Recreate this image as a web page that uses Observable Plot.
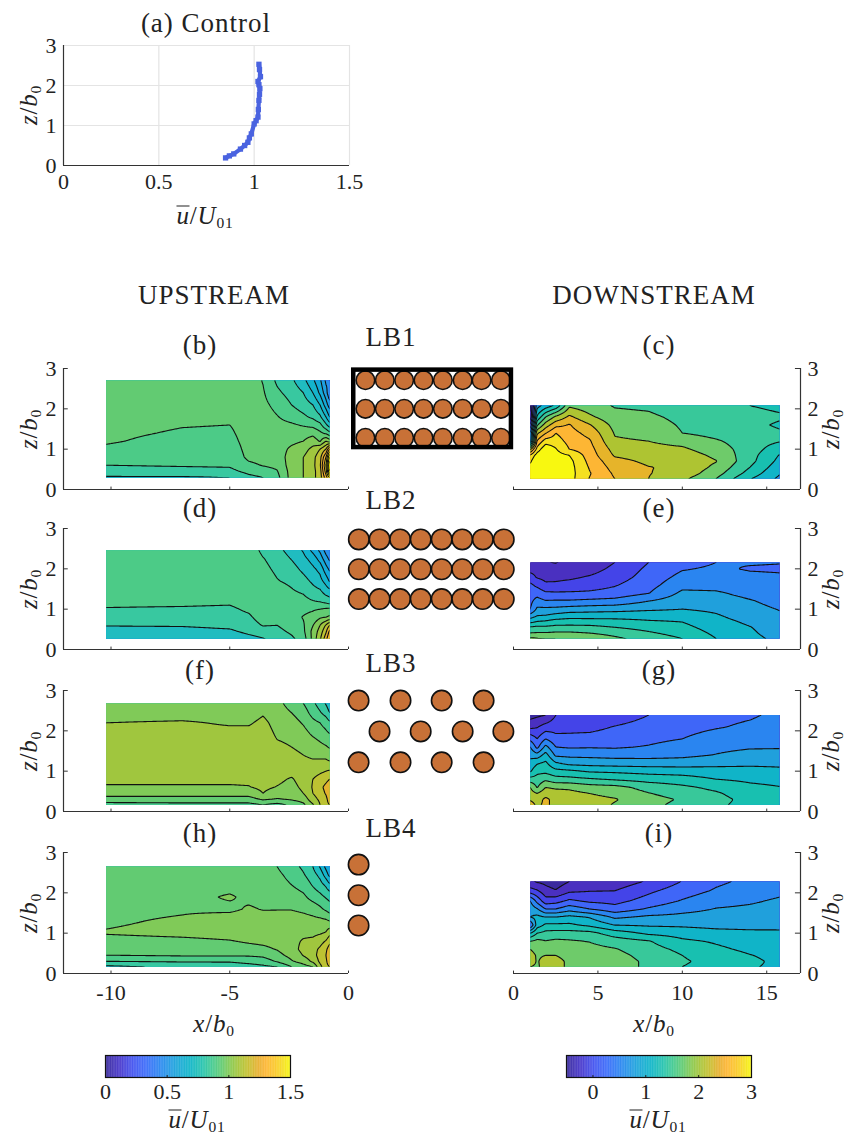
<!DOCTYPE html>
<html><head><meta charset="utf-8">
<script src="https://cdn.jsdelivr.net/npm/d3@7"></script>
<script src="https://cdn.jsdelivr.net/npm/@observablehq/plot@0.6"></script>
<style>
html,body{margin:0;padding:0;background:#fff}
#fig{position:relative;width:851px;height:1134px;overflow:hidden;font-family:"Liberation Serif",serif;color:#222}
#fig svg{position:absolute;overflow:visible;max-width:none;background:transparent}
.t{position:absolute;transform:translate(-50%,-50%);white-space:nowrap;font-size:27px;letter-spacing:1px;line-height:1}
.m{font-size:25px;letter-spacing:.8px}
.m i{font-style:italic}
.m sub{font-style:normal;font-size:62%;line-height:0;vertical-align:baseline;position:relative;top:.24em}
.m .o{display:inline-block;font-style:italic;line-height:.62em;border-top:1.2px solid #222;padding-top:1px}
.r{transform:translate(-50%,-50%) rotate(-90deg)}
</style></head><body><div id="fig"></div>
<script>
// ---------- (a) control profile ----------
const controlU=[0.85,0.87,0.893,0.928,0.95,0.967,0.975,0.985,1.0,1.01,1.02,1.022,1.025,1.028,1.03,1.025,1.02,1.033,1.028,1.025];
const controlZ=[0.19,0.24,0.29,0.41,0.5,0.58,0.69,0.79,1.04,1.12,1.21,1.4,1.63,1.78,1.92,2.02,2.1,2.22,2.4,2.53];
const axisU=[0,0.5,1,1.5], axisZ=[0,1,2,3];

// ---------- upstream fields: readings per column (top to bottom), one contour step = 0.1 here ----------
const upX=[-10.2,-7,-5,-4.2,-3.6,-3,-2.4,-1.9,-1.5,-1.2,-0.95,-0.8];
const bZ=[2.7,2.4,2.1,1.8,1.6,1.4,1.2,1,0.8,0.6,0.45,0.3];
const bV=[
[.95,.95,.94,.94,.93,.92,.91,.885,.84,.80,.75,.69],
[.95,.95,.94,.93,.905,.89,.87,.85,.83,.81,.76,.69],
[.95,.95,.94,.92,.90,.885,.87,.85,.835,.815,.77,.70],
[.95,.95,.95,.95,.94,.94,.935,.93,.92,.88,.83,.77],
[.895,.91,.925,.945,.95,.96,.96,.95,.93,.905,.86,.80],
[.78,.82,.87,.905,.93,.95,.96,.95,.94,.92,.895,.87],
[.72,.76,.80,.86,.915,.95,.975,1.02,1.05,1.05,1.04,1.04],
[.63,.70,.75,.82,.89,.96,1.0,1.06,1.10,1.10,1.10,1.10],
[.52,.60,.70,.78,.87,.97,1.05,1.13,1.17,1.17,1.17,1.17],
[.42,.48,.60,.72,.83,.92,.99,1.2,1.26,1.28,1.25,1.25],
[.28,.34,.45,.6,.72,.88,1.1,1.3,1.5,1.6,1.55,1.45],
[.3,.22,.35,.5,.65,.83,1.05,1.5,1.8,2.0,1.9,1.6]];
const dZ=[2.46,2.25,2,1.7,1.4,1.2,1,.8,.6,.45,.27];
const dV=[
[.85,.85,.85,.84,.83,.82,.795,.76,.705,.66,.605],
[.86,.86,.86,.85,.835,.82,.79,.76,.71,.66,.6],
[.86,.86,.86,.85,.835,.815,.785,.765,.73,.68,.61],
[.85,.86,.87,.865,.86,.84,.815,.785,.76,.73,.66],
[.78,.805,.825,.85,.87,.87,.86,.84,.805,.76,.695],
[.73,.76,.78,.805,.85,.87,.86,.83,.80,.77,.73],
[.66,.695,.74,.78,.815,.84,.87,.87,.85,.82,.78],
[.59,.63,.675,.735,.795,.83,.88,.905,.89,.88,.85],
[.47,.56,.62,.68,.745,.805,.89,.93,.995,1.03,1.03],
[.38,.46,.57,.635,.73,.79,.9,.985,1.1,1.14,1.18],
[.26,.34,.44,.56,.675,.765,.915,1.0,1.21,1.28,1.36],
[.22,.28,.38,.49,.66,.74,.92,1.02,1.3,1.42,1.5]];
const fZ=[2.68,2.45,2.2,1.9,1.6,1.3,1,.8,.6,.45,.3,.17];
const fV=[
[1.03,1.06,1.10,1.13,1.14,1.15,1.14,1.12,1.09,1.04,.96,.86],
[1.03,1.06,1.11,1.13,1.14,1.15,1.14,1.12,1.09,1.04,.96,.87],
[1.03,1.06,1.09,1.13,1.14,1.15,1.14,1.12,1.09,1.04,.96,.87],
[1.03,1.06,1.09,1.13,1.14,1.15,1.14,1.12,1.095,1.04,.96,.87],
[1.05,1.09,1.12,1.14,1.15,1.15,1.15,1.14,1.12,1.10,1.01,.90],
[1.03,1.05,1.07,1.09,1.115,1.14,1.14,1.12,1.095,1.05,.99,.87],
[.96,1.0,1.04,1.08,1.10,1.13,1.13,1.09,1.07,1.05,1.01,.92],
[.90,.95,.99,1.04,1.08,1.11,1.13,1.14,1.12,1.10,1.04,.98],
[.82,.86,.93,.99,1.06,1.10,1.16,1.2,1.21,1.2,1.16,1.09],
[.76,.81,.9,.96,1.03,1.1,1.18,1.24,1.27,1.25,1.22,1.2],
[.69,.76,.86,.93,1.01,1.1,1.2,1.27,1.33,1.31,1.27,1.27],
[.64,.70,.82,.91,.99,1.08,1.21,1.3,1.37,1.38,1.35,1.3]];
const hZ=[2.65,2.45,2.2,1.9,1.6,1.3,1,.8,.6,.45,.3,.17];
const hV=[
[.96,.96,.96,.97,.98,.99,1.005,.97,.94,.9,.8,.68],
[.94,.95,.96,.97,.99,1.01,1.02,.98,.95,.91,.81,.72],
[.93,.94,.97,1.01,.98,1.05,1.03,.995,.96,.91,.81,.74],
[.92,.93,.95,.98,1.01,1.05,1.04,1.01,.97,.91,.83,.76],
[.92,.93,.95,.97,.995,1.04,1.05,1.02,.98,.92,.85,.78],
[.90,.92,.94,.96,.995,1.05,1.06,1.03,1.005,.97,.91,.80],
[.84,.87,.9,.95,.995,1.05,1.07,1.07,1.06,1.03,.99,.9],
[.78,.81,.86,.92,.98,1.04,1.08,1.11,1.13,1.105,1.04,.96],
[.70,.74,.79,.86,.96,1.03,1.08,1.12,1.16,1.16,1.12,1.0],
[.59,.67,.74,.83,.92,1.03,1.09,1.16,1.22,1.24,1.22,1.17],
[.47,.55,.68,.79,.88,1.02,1.11,1.21,1.28,1.3,1.28,1.27],
[.4,.47,.62,.77,.85,1.0,1.17,1.27,1.35,1.39,1.36,1.3]];

// ---------- downstream fields ----------
const downX=[1,1.4,1.9,2.5,3.3,4.5,6,8,10,12,14,15.75];
const cZ=[2.08,1.8,1.6,1.4,1.2,1,.85,.7,.55,.4,.27];
const cV=[
[-.3,-.2,.3,.8,.9,2.2,2.78,2.95,3.1,3.2,3.2],
[.9,1.3,1.72,2.2,2.53,2.85,3.12,3.3,3.35,3.35,3.35],
[1.1,1.74,2.12,2.48,2.87,3.2,3.3,3.35,3.35,3.35,3.3],
[1.3,2.05,2.42,2.75,2.87,3.02,3.1,3.2,3.2,3.2,3.2],
[1.95,2.3,2.52,2.6,2.67,2.75,3,3.08,3.1,3.1,3.1],
[1.85,2.05,2.27,2.42,2.53,2.59,2.63,2.68,2.73,2.77,2.74],
[1.73,1.83,1.92,1.98,2.03,2.15,2.22,2.33,2.4,2.46,2.5],
[1.7,1.8,1.87,1.93,2.0,2.07,2.14,2.2,2.26,2.26,2.25],
[1.58,1.68,1.72,1.75,1.92,2.04,2.12,2.17,2.2,2.16,2.06],
[1.56,1.6,1.62,1.66,1.78,1.87,1.95,2.01,1.94,1.85,1.75],
[1.5,1.58,1.56,1.6,1.62,1.63,1.6,1.58,1.5,1.4,1.27],
[1.45,1.53,1.47,1.53,1.52,1.35,1.24,1.18,1.1,1.02,.95]];
const eZ=[2.16,2,1.8,1.6,1.4,1.2,1,.85,.7,.55,.4,.27];
const eV=[
[-.2,-.1,.1,.3,.38,.44,.5,.83,1.16,1.53,1.77,2.05],
[-.2,-.08,-.03,.19,.4,.6,.8,.98,1.24,1.56,1.78,2.02],
[-.24,-.18,-.08,.05,.29,.52,.81,1.0,1.27,1.55,1.78,2.0],
[-.26,-.18,-.07,.05,.28,.53,.82,1.06,1.34,1.58,1.8,2.0],
[-.2,-.14,-.05,.09,.28,.53,.86,1.12,1.36,1.58,1.8,1.98],
[-.17,-.1,.02,.14,.29,.56,.89,1.12,1.35,1.57,1.76,1.93],
[0,.06,.13,.23,.34,.59,.91,1.13,1.33,1.5,1.68,1.8],
[.25,.3,.35,.41,.49,.75,.96,1.14,1.27,1.41,1.54,1.65],
[.4,.48,.57,.67,.8,.9,1.0,1.12,1.24,1.32,1.41,1.5],
[.5,.54,.6,.67,.78,.86,.95,1.02,1.08,1.14,1.2,1.25],
[.52,.48,.55,.6,.68,.77,.83,.88,.95,1.01,1.04,1.07],
[.51,.47,.53,.58,.62,.67,.74,.78,.83,.87,.9,.94]];
const gZ=[2.39,2.1,1.8,1.6,1.4,1.2,1,.8,.6,.45,.3,.17];
const gV=[
[-.35,-.07,.43,.75,.93,1.08,1.22,1.6,2.0,2.1,2.22,2.35],
[-.3,-.02,.25,.42,.85,1.22,1.43,1.6,1.73,2.0,2.15,2.2],
[-.25,.1,.5,.83,1.1,1.3,1.43,1.7,2.0,2.16,2.3,2.3],
[0,.15,.33,.5,.7,1.03,1.33,1.6,1.95,2.12,2.17,2.17],
[.03,.17,.32,.47,.69,.92,1.3,1.58,1.95,2.07,2.13,2.15],
[.05,.18,.33,.48,.68,.9,1.22,1.53,1.86,2,2.08,2.12],
[.12,.26,.37,.47,.66,.88,1.2,1.47,1.83,1.92,2.02,1.98],
[.25,.34,.43,.52,.66,.87,1.16,1.4,1.66,1.76,1.85,1.82],
[.35,.42,.5,.62,.69,.87,1.14,1.36,1.55,1.63,1.72,1.68],
[.43,.48,.6,.68,.76,.92,1.1,1.25,1.44,1.53,1.58,1.54],
[.47,.54,.64,.72,.84,.95,1.08,1.2,1.31,1.37,1.42,1.43],
[.55,.6,.68,.73,.83,.95,1.05,1.17,1.26,1.31,1.33,1.35]];
const iZ=[2.28,2.05,1.8,1.6,1.4,1.2,1,.8,.6,.45,.3,.17];
const iV=[
[-.2,.1,.75,.9,1.0,.5,1.25,1.75,2.0,2.1,2.1,2.0],
[-.28,.03,.42,.77,1.08,1.12,1.5,1.82,1.9,1.97,1.98,1.97],
[-.32,-.15,.1,.5,1.0,1.3,1.58,1.76,1.9,2.0,2.08,2.08],
[-.4,-.23,.15,.5,1.0,1.3,1.6,1.8,1.92,2,2.07,2.07],
[-.25,-.05,.3,.65,1.07,1.3,1.6,1.78,1.88,1.93,1.96,1.96],
[-.2,-.01,.2,.5,.98,1.2,1.58,1.74,1.83,1.88,1.9,1.92],
[-.15,0,.17,.35,.7,1.0,1.38,1.63,1.77,1.83,1.87,1.87],
[.03,.2,.35,.53,.8,.97,1.2,1.52,1.6,1.66,1.7,1.7],
[.26,.38,.52,.67,.82,.96,1.14,1.3,1.44,1.5,1.53,1.5],
[.45,.53,.67,.76,.85,.93,1.08,1.22,1.3,1.37,1.42,1.4],
[.56,.63,.72,.79,.87,.93,1.05,1.13,1.2,1.26,1.3,1.27],
[.62,.7,.78,.83,.88,.94,1.04,1.1,1.15,1.18,1.2,1.21]];

// ---------- bar arrangements (x, z in b0) ----------
const lb1X=[.42,.90,1.38,1.86,2.34,2.83,3.3,3.78], lb1Z=[1.28,2.0,2.71];
const lb2X=[.256,.77,1.28,1.79,2.31,2.82,3.33,3.85], lb2Z=[1.25,1.99,2.73];
const lb3A=[.25,1.29,2.31,3.35], lb3B=[.77,1.79,2.83,3.84], lb3Z=[1.22,1.985,2.75];
const lb4X=[.25], lb4Z=[1.19,1.94,2.7];

// ---------- colours ----------
const cmapT=[0,.08,.15,.22,.3,.38,.46,.53,.58,.63,.68,.72,.77,.83,.87,.92,.965,1];
const cmapC=["#392a9a","#4838cc","#4455f0","#3c6cfa","#2a88f0","#1ea4dc","#10b6c8","#28c4ac","#44ca90","#62cb72","#88c94f","#a4c63c","#c4c030","#e8b030","#fdb634","#fbc82a","#f5e020","#f8f810"];
const leftRange=[0,1.5], rightRange=[-.5,3];
const leftStep=.075, rightStep=.25;
const leftLevels=[.075,.15,.225,.3,.375,.45,.525,.6,.675,.75,.825,.9,.975,1.05,1.125,1.2,1.275,1.35,1.425];
const leftBands=["#4838cc","#4455f0","#3c6cfa","#2f80f0","#2a92ea","#1fa0e0","#14aad8","#14b4cc","#20bcc0","#38c8a0","#4ccb87","#62cb72","#80ca58","#a0c63e","#bdc232","#e4b22e","#fdb634","#f5e020","#f8f810"];
const rightLevels=[-.5,-.25,0,.25,.5,.75,1,1.25,1.5,1.75,2,2.25,2.5,2.75,3];
const rightBands=["#3a2a9e","#4a30c0","#4444e8","#3f66f8","#2a85f0","#20a0dc","#10b4c8","#18c0b0","#38c89a","#6ecb6a","#aec432","#e6b42a","#fdb634","#f5e020","#f8f810"];

const ink="#222", font="Liberation Serif";
const fig=document.getElementById("fig");
const baseStyle={fontFamily:font,fontSize:"22px",color:ink,background:"transparent",overflow:"visible"};
function place(svg,left,top){svg.style.left=left+"px";svg.style.top=top+"px";fig.appendChild(svg);}
function label(html,x,y,cls=""){const d=document.createElement("div");d.className="t "+cls;d.innerHTML=html;d.style.left=x+"px";d.style.top=y+"px";fig.appendChild(d);}
const zLab='<i>z</i>/<i>b</i><sub>0</sub>', xLab='<i>x</i>/<i>b</i><sub>0</sub>', uLab='<span class="o">u</span>/<i>U</i><sub>01</sub>';

function sampler(xs,zs,vals,conv){
  return (x,z)=>{
    const cx=Math.max(xs[0],Math.min(xs[xs.length-1],x));
    const cz=Math.min(zs[0],Math.max(zs[zs.length-1],z));
    let i=Math.min(d3.bisectRight(xs,cx)-1,xs.length-2);
    let j=0; while(j<zs.length-2&&zs[j+1]>cz) j++;
    const a=(cx-xs[i])/(xs[i+1]-xs[i]), b=(zs[j]-cz)/(zs[j]-zs[j+1]);
    const v=(vals[i][j]*(1-a)+vals[i+1][j]*a)*(1-b)+(vals[i][j+1]*(1-a)+vals[i+1][j+1]*a)*b;
    return conv(v);
  };
}
const leftConv=m=>0.9+(m-0.9)*0.75, rightConv=v=>v;

function field(side,xs,zs,vals,top,showX){
  const left=side==="L";
  const xDom=left?[-12,0]:[0,17];
  const thr=left?d3.range(-8,28).map(k=>k*leftStep):d3.range(-4,13).map(k=>k*rightStep);
  const xTicks=left?[-10,-5,0]:[0,5,10,15];
  const value=sampler(xs,zs,vals,left?leftConv:rightConv);
  const W=left?380:351, mL=left?63:13, mR=left?32:51, mT=15, H=121;
  const edge=left?-12:17, tickLen=left?0.2:-0.3;
  const plot=Plot.plot({
    width:W,height:mT+H+36,marginLeft:mL,marginRight:mR,marginTop:mT,marginBottom:36,
    style:baseStyle,
    x:{domain:xDom,label:null},y:{domain:[0,3],label:null},
    color:{type:"linear",domain:left?leftLevels:rightLevels,range:left?leftBands:rightBands,clamp:true},
    marks:[
      Plot.contour({value,fill:"value",stroke:"#111",strokeWidth:1.1,thresholds:thr,x1:xDom[0],x2:xDom[1],y1:0,y2:3,pixelSize:1}),
      Plot.ruleY([0],{stroke:"#333",strokeWidth:1.2}),
      Plot.ruleX(xTicks,{y1:0,y2:0.06,stroke:"#333"}),
      Plot.ruleX([edge],{stroke:"#333",strokeWidth:1.2}),
      Plot.ruleY(axisZ,{x1:edge,x2:edge+tickLen,stroke:"#333"}),
      Plot.axisX({ticks:xTicks,tickSize:0,tickPadding:11,fontSize:22,tickFormat:showX?(d=>String(d)):(()=>"")}),
      Plot.axisY({ticks:axisZ,anchor:left?"left":"right",tickSize:0,tickPadding:7,fontSize:22,tickFormat:d=>String(d)})
    ]
  });
  // limit the filled field to the measured window
  const sx=plot.scale("x"), sy=plot.scale("y");
  const id="clip"+side+top;
  const x0=sx.apply(xs[0]),x1=sx.apply(xs[xs.length-1]),y0=sy.apply(zs[0]),y1=sy.apply(zs[zs.length-1]);
  const ns="http://www.w3.org/2000/svg";
  const cp=document.createElementNS(ns,"clipPath");cp.setAttribute("id",id);
  const r=document.createElementNS(ns,"rect");
  r.setAttribute("x",x0);r.setAttribute("y",y0);r.setAttribute("width",x1-x0);r.setAttribute("height",y1-y0);
  cp.appendChild(r);plot.appendChild(cp);
  plot.querySelector('g[aria-label="contour"]').setAttribute("clip-path",`url(#${id})`);
  place(plot,left?0:500,top-mT);
}

function bars(top,marks){
  const plot=Plot.plot({
    width:190,height:151,marginLeft:8,marginRight:17,marginTop:15,marginBottom:15,
    style:baseStyle,axis:null,
    x:{domain:[0,165/40.33]},y:{domain:[0,3]},
    marks
  });
  place(plot,340,top-15);
}
const grid=(xs,zs)=>zs.flatMap(z=>xs.map(x=>({x,z})));
const barDot=(data,r)=>Plot.dot(data,{x:"x",y:"z",r,fill:"#c87137",stroke:"#111",strokeWidth:1.6});

function colorbar(range,ticks,leftPx){
  const n=260, d=d3.range(n).map(i=>range[0]+(range[1]-range[0])*(i+.5)/n), w=(range[1]-range[0])/n;
  const plot=Plot.plot({
    width:225,height:65,marginLeft:20,marginRight:20,marginTop:8,marginBottom:35,
    style:baseStyle,
    x:{domain:range,label:null},y:{domain:[0,1],axis:null},
    color:{type:"linear",domain:cmapT.map(t=>range[0]+(range[1]-range[0])*t),range:cmapC,clamp:true},
    marks:[
      Plot.rect(d,{x1:v=>v-w/2,x2:v=>v+w/2+w*.3,y1:0,y2:1,fill:v=>v}),
      Plot.ruleX(ticks,{y1:0,y2:.09,stroke:"#222"}),
      Plot.frame({stroke:"#111",strokeWidth:1.2}),
      Plot.axisX({ticks,tickSize:0,tickPadding:6,fontSize:22,tickFormat:d=>String(d)})
    ]
  });
  place(plot,leftPx-20,1055-8);
}

// (a)
place(Plot.plot({
  width:380,height:170,marginLeft:63,marginRight:31,marginTop:15,marginBottom:35,
  style:baseStyle,
  x:{domain:[0,1.5],label:null},y:{domain:[0,3],label:null},
  marks:[
    Plot.ruleX(axisU.slice(1),{stroke:"#e4e4e4",strokeWidth:1.2}),
    Plot.ruleY(axisZ.slice(1),{stroke:"#e4e4e4",strokeWidth:1.2}),
    Plot.ruleY([0],{stroke:"#333",strokeWidth:1.2}),
    Plot.ruleX([0],{stroke:"#333",strokeWidth:1.2}),
    Plot.line(controlU.map((u,i)=>({u,z:controlZ[i]})),{x:"u",y:"z",stroke:"#4a63e0",strokeWidth:4.2}),
    Plot.dot(controlU.map((u,i)=>({u,z:controlZ[i]})),{x:"u",y:"z",symbol:"square",r:3,fill:"#4a63e0"}),
    Plot.axisX({ticks:axisU,tickSize:0,tickPadding:8,fontSize:22,tickFormat:d=>String(d)}),
    Plot.axisY({ticks:axisZ,tickSize:0,tickPadding:7,fontSize:22,tickFormat:d=>String(d)})
  ]
}),0,30);

field("L",upX,bZ,bV,368,false);
field("R",downX,cZ,cV,368,false);
field("L",upX,dZ,dV,528,false);
field("R",downX,eZ,eV,528,false);
field("L",upX,fZ,fV,690,false);
field("R",downX,gZ,gV,690,false);
field("L",upX,hZ,hV,852,true);
field("R",downX,iZ,iV,852,true);

bars(368,[barDot(grid(lb1X,lb1Z),9.3),Plot.rect([{a:.13,b:4.04,c:1.04,d:2.96}],{x1:"a",x2:"b",y1:"c",y2:"d",stroke:"#000",strokeWidth:4.5,fill:"none"})]);
bars(528,[barDot(grid(lb2X,lb2Z),10.2)]);
bars(690,[barDot([...grid(lb3A,[lb3Z[0],lb3Z[2]]),...grid(lb3B,[lb3Z[1]])],10.2)]);
bars(852,[barDot(grid(lb4X,lb4Z),10.2)]);

colorbar(leftRange,[0,.5,1,1.5],105);
colorbar(rightRange,[0,1,2,3],566);

// text
label("(a) Control",206,23);
label("UPSTREAM",214,295);label("DOWNSTREAM",654,295);
[["(b)",200,345],["(c)",659,345],["(d)",200,508],["(e)",659,508],["(f)",200,670],["(g)",659,670],["(h)",200,833],["(i)",659,833],
 ["LB1",391,337],["LB2",391,500],["LB3",391,663],["LB4",391,828]].forEach(a=>label(...a));
[[28,105],[28,429],[28,589],[28,751],[28,913],[830,429],[830,589],[830,751],[830,913]].forEach(([x,y])=>label(zLab,x,y,"m r"));
label(xLab,214,1023,"m");label(xLab,654,1023,"m");
label(uLab,205,215,"m");label(uLab,197,1119,"m");label(uLab,658,1119,"m");
</script></body></html>
